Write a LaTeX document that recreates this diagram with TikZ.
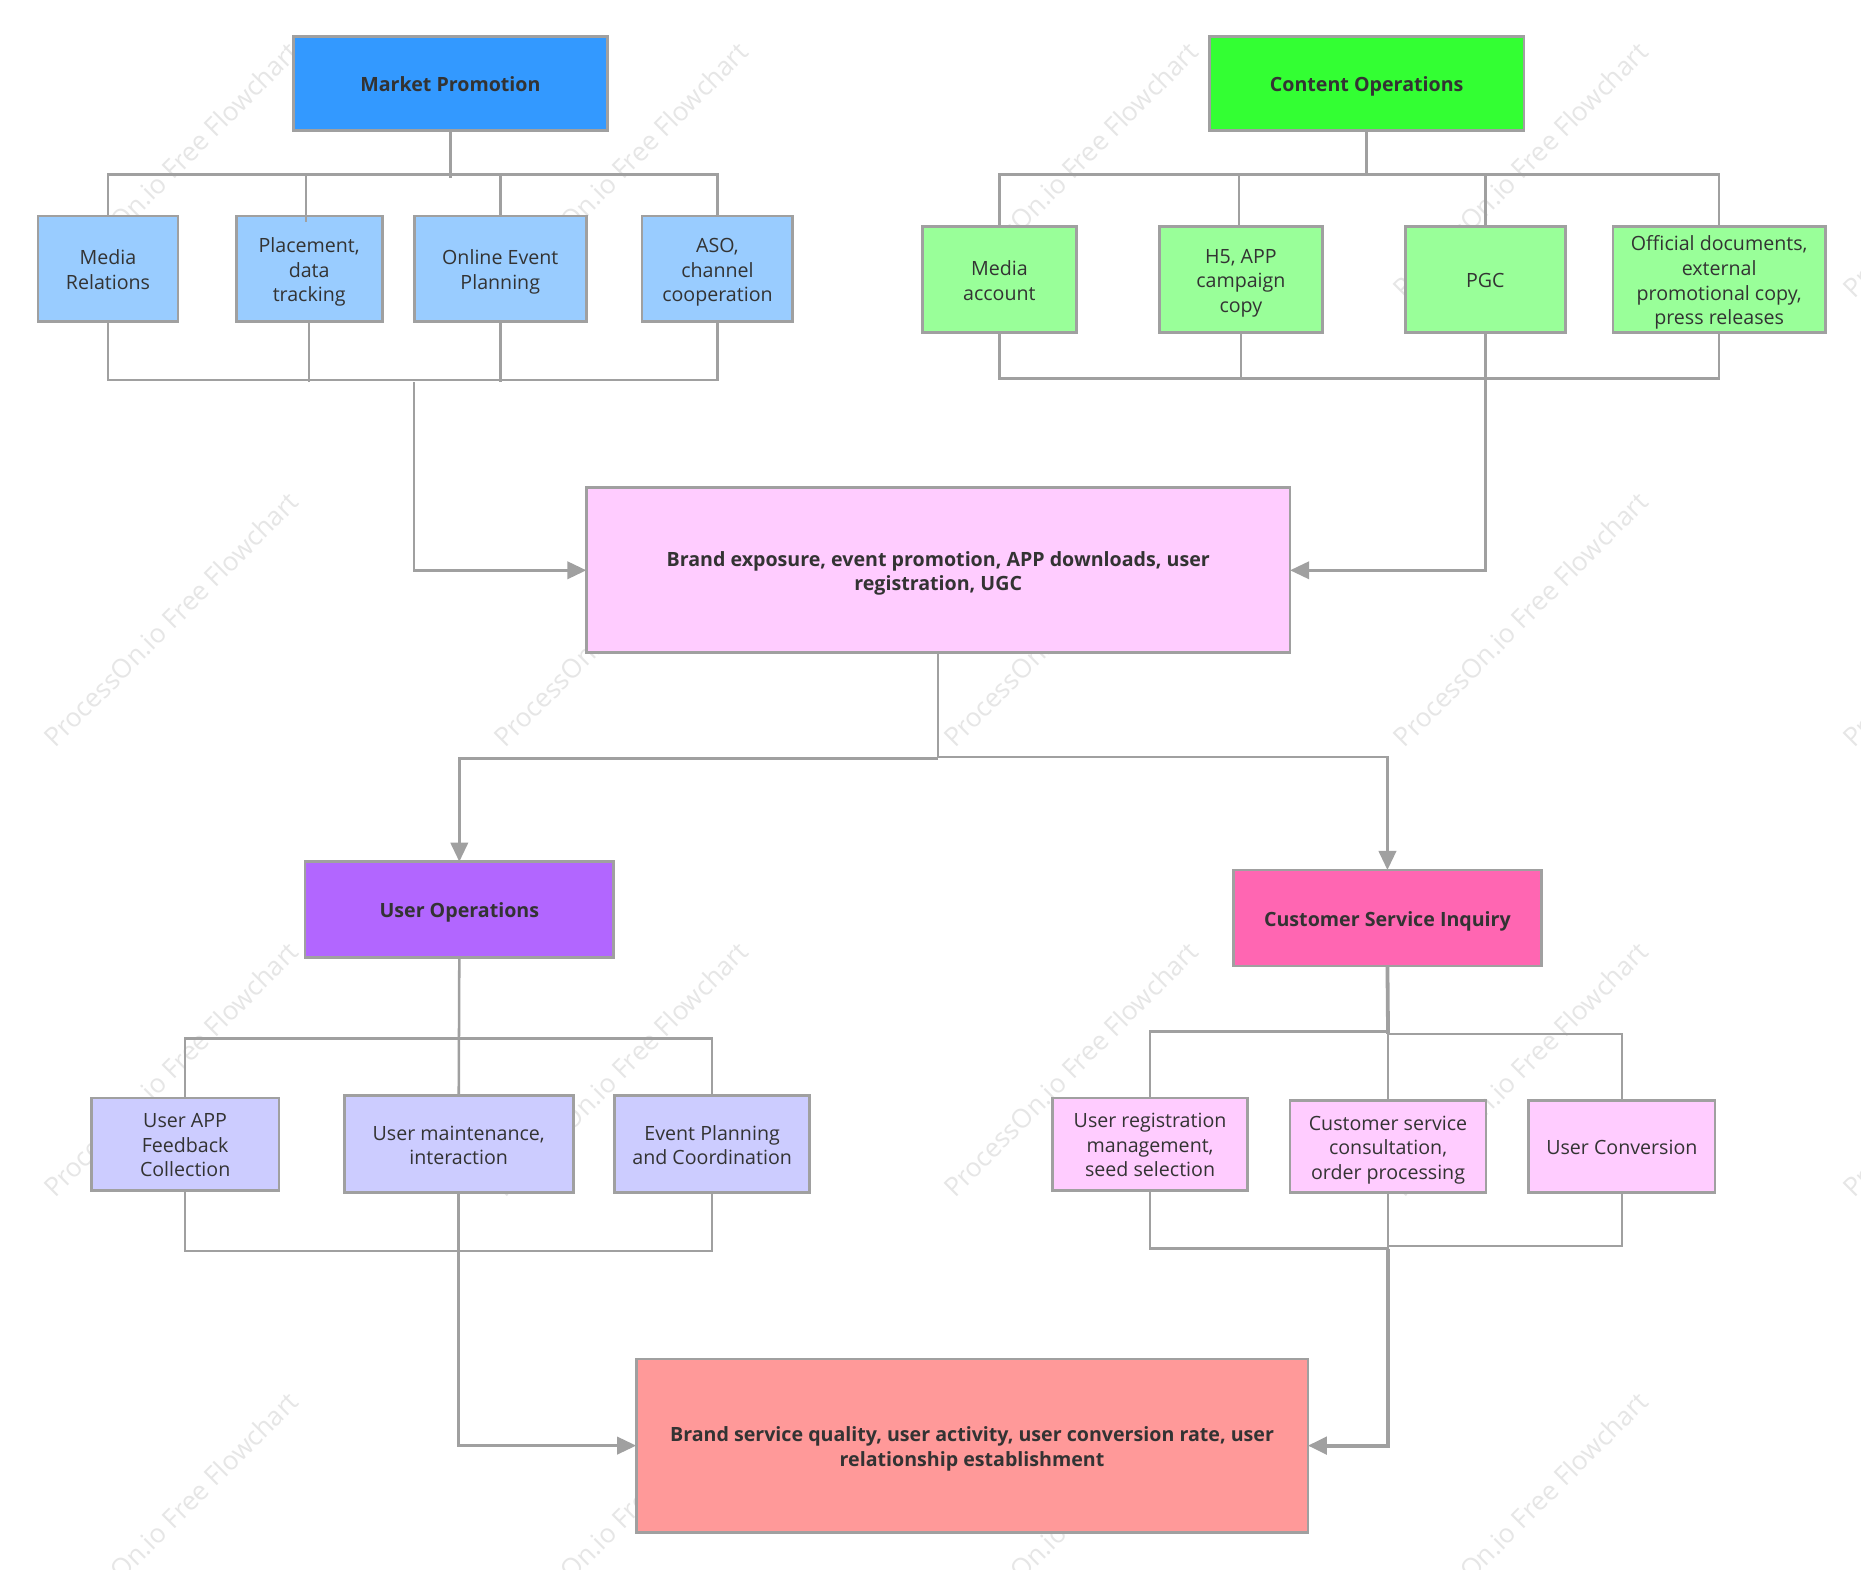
\documentclass[tikz,border=0pt]{standalone}
\usepackage{xcolor}
\usepackage{fontspec}
\setmainfont{Open Sans}
\usetikzlibrary{arrows.meta}
\newcommand{\cardtext}[1]{\rule{0pt}{14pt}#1\rule[-3.6pt]{0pt}{3.6pt}}

\begin{document}
\begin{tikzpicture}
[x=0.75pt,y=-0.75pt,
boxsize/.style 2 args={minimum width=#1*0.75pt,minimum height=#2*0.75pt},
card/.style={draw=linecolor,line width=1.7pt,inner sep=0pt,outer sep=0pt,align=center,
  text=textcolor,font=\fontsize{12.4}{15.5}\selectfont},
head/.style={card,font=\fontsize{12.4}{15.5}\selectfont\bfseries},
wire/.style={draw=linecolor,line width=1.6pt},
heavy wire/.style={draw=linecolor,line width=2.4pt},
arrow wire/.style={wire,-{Triangle[length=12pt,width=11pt]}},
watermark/.style={rotate=45,text=markcolor,font=\fontsize{16.6}{18}\selectfont}]
% Colors
\definecolor{linecolor}{HTML}{A0A0A0}
\definecolor{textcolor}{HTML}{333333}
\definecolor{markcolor}{HTML}{E6E6E6}
\definecolor{marketcolor}{HTML}{3399FF}
\definecolor{marketleaf}{HTML}{99CCFF}
\definecolor{contentcolor}{HTML}{33FF33}
\definecolor{contentleaf}{HTML}{99FF99}
\definecolor{brandcolor}{HTML}{FFCCFF}
\definecolor{usercolor}{HTML}{B266FF}
\definecolor{userleaf}{HTML}{CCCCFF}
\definecolor{servicecolor}{HTML}{FF66B2}
\definecolor{serviceleaf}{HTML}{FFCCFF}
\definecolor{resultcolor}{HTML}{FF9999}
\useasboundingbox[fill=white] (0,0) rectangle (1568,1322);
% The watermark
\foreach \wx in {144,523,902,1281,1660}
\foreach \wy in {143,522,901,1280}
\node[watermark] (mark\wx\wy) at (\wx,\wy) {ProcessOn.io Free Flowchart};
% The boxes
\node[head,fill=marketcolor,boxsize={265}{79}] (market) at (379.5,70.5) {\cardtext{Market Promotion}};
\node[card,fill=marketleaf,boxsize={118}{89}] (medrel) at (91,226.5) {\cardtext{Media\\Relations}};
\node[card,fill=marketleaf,boxsize={123}{89}] (placement) at (260.5,226.5) {\cardtext{Placement,\\data\\tracking}};
\node[card,fill=marketleaf,boxsize={145}{89}] (online) at (421.5,226.5) {\cardtext{Online Event\\Planning}};
\node[card,fill=marketleaf,boxsize={127}{89}] (aso) at (604.5,226.5) {\cardtext{ASO,\\channel\\cooperation}};
\node[head,fill=contentcolor,boxsize={265}{79}] (content) at (1151.5,70.5) {\cardtext{Content Operations}};
\node[card,fill=contentleaf,boxsize={130}{89}] (medacc) at (842,235.5) {\cardtext{Media\\account}};
\node[card,fill=contentleaf,boxsize={137}{89}] (hfive) at (1045.5,235.5) {\cardtext{H5, APP\\campaign\\copy}};
\node[card,fill=contentleaf,boxsize={135}{89}] (pgc) at (1251.5,235.5) {\cardtext{PGC}};
\node[card,fill=contentleaf,boxsize={179}{89}] (official) at (1448.5,235.5) {\cardtext{Official documents,\\external\\promotional copy,\\press releases}};
\node[head,fill=brandcolor,boxsize={593}{139}] (brand) at (790.5,480.5) {\cardtext{Brand exposure, event promotion, APP downloads, user\\registration, UGC}};
\node[head,fill=usercolor,boxsize={260}{81}] (userops) at (387,766.5) {\cardtext{User Operations}};
\node[card,fill=userleaf,boxsize={158}{78}] (userapp) at (156,964) {\cardtext{User APP\\Feedback\\Collection}};
\node[card,fill=userleaf,boxsize={193}{82}] (usermaint) at (386.5,964) {\cardtext{User maintenance,\\interaction}};
\node[card,fill=userleaf,boxsize={164}{82}] (eventplan) at (600,964) {\cardtext{Event Planning\\and Coordination}};
\node[head,fill=servicecolor,boxsize={260}{81}] (service) at (1169,773.5) {\cardtext{Customer Service Inquiry}};
\node[card,fill=serviceleaf,boxsize={164}{78}] (userreg) at (969,964) {\cardtext{User registration\\management,\\seed selection}};
\node[card,fill=serviceleaf,boxsize={165}{78}] (consult) at (1169.5,966) {\cardtext{Customer service\\consultation,\\order processing}};
\node[card,fill=serviceleaf,boxsize={157}{78}] (userconv) at (1366.5,966) {\cardtext{User Conversion}};
\node[head,fill=resultcolor,boxsize={566}{146}] (result) at (819,1218) {\cardtext{Brand service quality, user activity, user conversion rate, user\\relationship establishment}};
% Market Promotion
\coordinate (markettop) at (380,147);
\coordinate (marketlow) at (349,320);
\draw[wire] (market.south) -- ([yshift=-2pt]market.south |- markettop);
\foreach \leaf in {medrel,online,aso}
\draw[wire] (\leaf.north) |- (markettop);
\coordinate (placetop) at (258,187);
\draw[wire] (placetop) |- (markettop);
\foreach \leaf in {medrel,aso}
\draw[wire] (\leaf.south) |- (marketlow);
\foreach \leaf in {placement,online}
\draw[wire] (\leaf.south) -- ([yshift=-1.5pt]\leaf.south |- marketlow);
\coordinate (marketdown) at (349,322);
\draw[arrow wire] (marketdown) |- (brand.west);
% Content Operations
\coordinate (contenttop) at (1151,147);
\coordinate (contentlow) at (1252,319);
\draw[wire] (content.south) -- (content.south |- contenttop);
\foreach \leaf in {medacc,official,pgc}
\draw[wire] (\leaf.north) |- (contenttop);
\coordinate (hfivetop) at (1044,191);
\draw[wire] (hfivetop) |- (contenttop);
\foreach \leaf in {medacc,hfive,official}
\draw[wire] (\leaf.south) |- (contentlow);
\draw[arrow wire] (pgc.south) |- (brand.east);
% Brand
\coordinate (brandleft) at (790.5,639);
\coordinate (brandright) at (790.5,638);
\draw[wire] (brand.south) -- (brandleft);
\draw[arrow wire] (brandleft) -| (userops.north);
\draw[arrow wire] (brandright) -| (service.north);
% User Operations
\coordinate (usertop) at (387,875);
\coordinate (userlow) at (387,1054);
\draw[wire] (userops.south) -- (usermaint.north);
\foreach \leaf in {userapp,eventplan}
\draw[wire] (\leaf.north) |- (usertop);
\foreach \leaf in {userapp,eventplan}
\draw[wire] (\leaf.south) |- (userlow);
\draw[arrow wire] (usermaint.south) |- (result.west);
% Customer Service Inquiry
\coordinate (servtopleft) at (1169.5,869);
\coordinate (servtopright) at (1169.5,871);
\coordinate (servlowleft) at (1169.5,1052);
\coordinate (servlowright) at (1169.5,1050);
\draw[heavy wire] (service.south) -- (servtopright);
\draw[wire] (servtopright) -- (consult.north);
\draw[wire] (userreg.north) |- (servtopleft);
\draw[wire] (userconv.north) |- (servtopright);
\draw[wire] (userreg.south) |- (servlowleft);
\draw[wire] (userconv.south) |- (servlowright);
\draw[wire] (consult.south) -- (servlowleft);
\draw[heavy wire,-{Triangle[length=12pt,width=11pt]}] (servlowleft) |- (result.east);
\end{tikzpicture}
\end{document}
